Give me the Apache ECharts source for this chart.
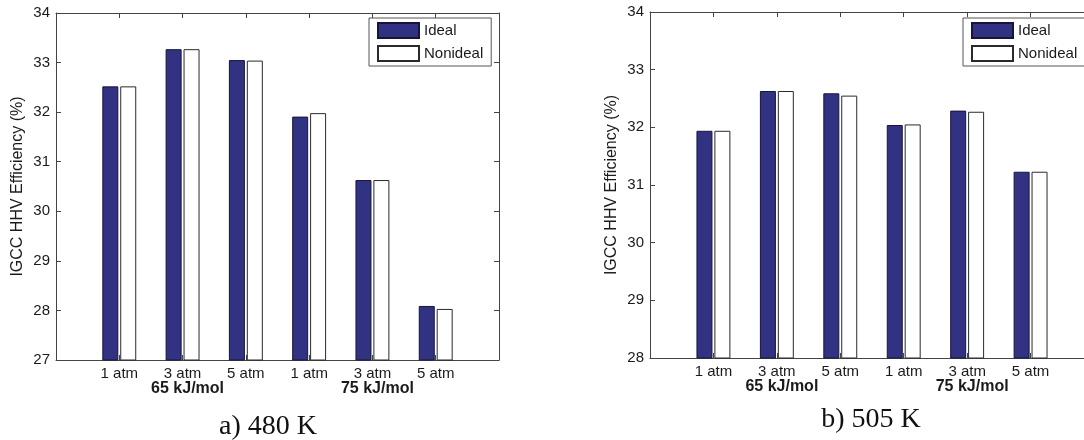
<!DOCTYPE html>
<html>
<head>
<meta charset="UTF-8">
<title>IGCC HHV Efficiency</title>
<script src="https://cdn.jsdelivr.net/npm/echarts@6/dist/echarts.min.js"></script>
<style>
html, body { margin: 0; padding: 0; background: #fff; }
#main { width: 1084px; height: 440px; }
</style>
</head>
<body>
<div id="main"></div>
<script type="text/javascript">
// data
var categories = ['1 atm', '3 atm', '5 atm', '1 atm', '3 atm', '5 atm'];
var groupLabels = ['65 kJ/mol', '75 kJ/mol'];   // under the 2nd and 5th category
var groupIndex = [1, 4];
var yTicks480 = [27, 34];
var yTicks505 = [28, 34];
var ideal480 = [32.52, 33.27, 33.05, 31.91, 30.63, 28.09];
var nonideal480 = [32.52, 33.27, 33.04, 31.98, 30.63, 28.03];
var ideal505 = [31.94, 32.63, 32.59, 32.04, 32.29, 31.23];
var nonideal505 = [31.94, 32.63, 32.55, 32.05, 32.27, 31.23];
var captions = ['a) 480 K', 'b) 505 K'];

var myChart = echarts.init(document.getElementById('main'));

var axisColor = '#444';
var textColor = '#1a1a1a';
var sans = 'Liberation Sans, Arial, sans-serif';

// pad an empty slot at each end so the bars sit at 1..6 like matlab
function pad(arr, v) {
	return [v].concat(arr, [v]);
}

function bottomAxis(grid) {
	return {
		type: 'category',
		gridIndex: grid,
		data: pad(categories, ''),
		boundaryGap: false,
		axisLine: { lineStyle: { color: axisColor, width: 1 } },
		axisTick: { inside: true, length: 5, interval: 0, lineStyle: { color: axisColor } },
		splitLine: { show: false },
		axisLabel: {
			interval: 0,
			margin: 6,
			fontSize: 15,
			lineHeight: 15,
			color: textColor,
			fontFamily: sans,
			formatter: function (value, idx) {
				var g = groupIndex.indexOf(idx - 1);
				if (g >= 0) {
					return value + '\n{g|' + groupLabels[g] + '}';
				}
				return value;
			},
			rich: {
				g: { fontWeight: 'bold', fontSize: 16, lineHeight: 15, fontFamily: sans, color: textColor, padding: [0, 0, 0, 10] }
			}
		}
	};
}

function topAxis(grid) {
	return {
		type: 'category',
		gridIndex: grid,
		position: 'top',
		data: pad(categories, ''),
		boundaryGap: false,
		axisLine: { lineStyle: { color: axisColor, width: 1 } },
		axisTick: { inside: true, length: 5, interval: 0, lineStyle: { color: axisColor } },
		axisLabel: { show: false },
		splitLine: { show: false }
	};
}

function leftAxis(grid, ticks) {
	return {
		type: 'value',
		gridIndex: grid,
		min: ticks[0],
		max: ticks[1],
		interval: 1,
		name: 'IGCC HHV Efficiency (%)',
		nameLocation: 'middle',
		nameGap: 30,
		nameTextStyle: { fontSize: 16, color: textColor, fontFamily: sans },
		axisLine: { show: true, lineStyle: { color: axisColor, width: 1 } },
		axisTick: { show: true, inside: true, length: 5, lineStyle: { color: axisColor } },
		axisLabel: { margin: 6, fontSize: 15, color: textColor, fontFamily: sans },
		splitLine: { show: false }
	};
}

function rightAxis(grid, ticks) {
	return {
		type: 'value',
		gridIndex: grid,
		position: 'right',
		min: ticks[0],
		max: ticks[1],
		interval: 1,
		axisLine: { show: true, lineStyle: { color: axisColor, width: 1 } },
		axisTick: { show: true, inside: true, length: 5, lineStyle: { color: axisColor } },
		axisLabel: { show: false },
		splitLine: { show: false }
	};
}

function barSeries(name, data, axis, ideal) {
	return {
		name: name,
		type: 'bar',
		xAxisIndex: axis,
		yAxisIndex: axis,
		barWidth: 16,
		barGap: '12%',
		data: pad(data, null),
		itemStyle: ideal
			? { color: '#323282', borderColor: '#16163c', borderWidth: 1 }
			: { color: '#ffffff', borderColor: '#2a2a2a', borderWidth: 1 }
	};
}

function legendBox(left) {
	return {
		data: ['Ideal', 'Nonideal'],
		orient: 'vertical',
		left: left,
		top: 18,
		icon: 'rect',
		itemWidth: 41,
		itemHeight: 15,
		itemGap: 6,
		padding: [4, 8, 4, 8],
		borderColor: '#555',
		borderWidth: 1,
		backgroundColor: '#fff',
		selectedMode: false,
		textStyle: { fontSize: 15, lineHeight: 15, color: textColor, fontFamily: sans }
	};
}

var option = {
	animation: false,
	backgroundColor: '#fff',
	grid: [
		{ left: 56, top: 13, width: 443, height: 347, outerBoundsMode: 'none' },
		// right panel runs past the edge of the picture, as in the scan
		{ left: 650, top: 12, width: 444, height: 346, outerBoundsMode: 'none' }
	],
	xAxis: [bottomAxis(0), topAxis(0), bottomAxis(1), topAxis(1)],
	yAxis: [leftAxis(0, yTicks480), rightAxis(0, yTicks480), leftAxis(1, yTicks505), rightAxis(1, yTicks505)],
	legend: [legendBox(369), legendBox(963)],
	series: [
		barSeries('Ideal', ideal480, 0, true),
		barSeries('Nonideal', nonideal480, 0, false),
		barSeries('Ideal', ideal505, 2, true),
		barSeries('Nonideal', nonideal505, 2, false)
	],
	graphic: [
		{
			type: 'text', x: 268, y: 427,
			style: { text: captions[0], font: '28px "Liberation Serif", "Times New Roman", serif', fill: '#111', textAlign: 'center', textVerticalAlign: 'middle' }
		},
		{
			type: 'text', x: 871, y: 420,
			style: { text: captions[1], font: '28px "Liberation Serif", "Times New Roman", serif', fill: '#111', textAlign: 'center', textVerticalAlign: 'middle' }
		}
	]
};
myChart.setOption(option);
</script>
</body>
</html>
